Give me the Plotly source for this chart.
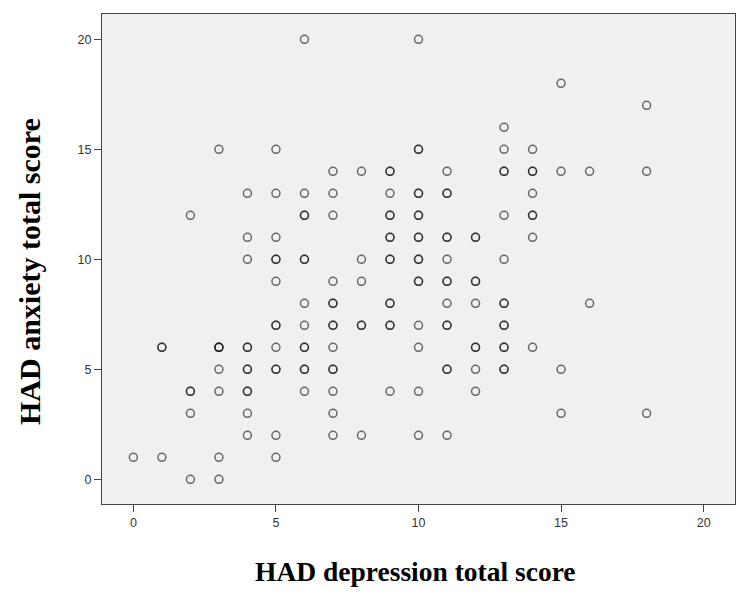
import plotly.graph_objects as go

# (depression, anxiety, count); darker circles = overlapping cases
dep_x = [0, 1, 1, 2, 2, 2, 2, 3, 3, 3, 3, 3, 3,
         4, 4, 4, 4, 4, 4, 4, 4,
         5, 5, 5, 5, 5, 5, 5, 5, 5, 5,
         6, 6, 6, 6, 6, 6, 6, 6, 6,
         7, 7, 7, 7, 7, 7, 7, 7, 7, 7, 7,
         8, 8, 8, 8, 8,
         9, 9, 9, 9, 9, 9, 9, 9,
         10, 10, 10, 10, 10, 10, 10, 10, 10, 10, 10,
         11, 11, 11, 11, 11, 11, 11, 11, 11,
         12, 12, 12, 12, 12, 12,
         13, 13, 13, 13, 13, 13, 13, 13, 13,
         14, 14, 14, 14, 14, 14,
         15, 15, 15, 15, 16, 16, 18, 18, 18]
anx_y = [1, 6, 1, 12, 4, 3, 0, 15, 6, 5, 4, 1, 0,
         13, 11, 10, 6, 5, 4, 3, 2,
         15, 13, 11, 10, 9, 7, 6, 5, 2, 1,
         20, 13, 12, 10, 8, 7, 6, 5, 4,
         14, 13, 12, 9, 8, 7, 6, 5, 4, 3, 2,
         14, 10, 9, 7, 2,
         14, 13, 12, 11, 10, 8, 7, 4,
         20, 15, 13, 12, 11, 10, 9, 7, 6, 4, 2,
         14, 13, 11, 10, 9, 8, 7, 5, 2,
         11, 9, 8, 6, 5, 4,
         16, 15, 14, 12, 10, 8, 7, 6, 5,
         15, 14, 13, 12, 11, 6,
         18, 14, 5, 3, 14, 8, 17, 14, 3]
counts = [1, 2, 1, 1, 2, 1, 1, 1, 3, 1, 1, 1, 1,
          1, 1, 1, 2, 2, 2, 1, 1,
          1, 1, 1, 2, 1, 2, 1, 2, 1, 1,
          1, 1, 2, 2, 1, 1, 2, 2, 1,
          1, 1, 1, 1, 2, 2, 1, 2, 1, 1, 1,
          1, 1, 1, 2, 1,
          2, 1, 2, 2, 2, 2, 2, 1,
          1, 2, 2, 2, 2, 2, 2, 1, 1, 1, 1,
          1, 2, 2, 1, 2, 1, 2, 2, 1,
          2, 2, 1, 2, 1, 1,
          1, 1, 2, 1, 1, 2, 2, 2, 2,
          1, 2, 1, 2, 1, 1,
          1, 1, 1, 1, 1, 1, 1, 1, 1]

xs, ys = [], []
for x, y, c in zip(dep_x, anx_y, counts):
    xs += [x] * c
    ys += [y] * c

x_ticks = [0, 5, 10, 15, 20]
y_ticks = [0, 5, 10, 15, 20]

fig = go.Figure(go.Scatter(
    x=xs, y=ys, mode="markers",
    marker=dict(symbol="circle-open", size=8, color="rgba(20,20,20,0.62)",
                line=dict(width=1.5, color="rgba(20,20,20,0.62)")),
    hoverinfo="x+y", showlegend=False))

tick_font = dict(family="Liberation Sans, Arial, sans-serif", size=12.5, color="#333")
axis_common = dict(showgrid=False, zeroline=False, showline=True, linecolor="#444",
                   linewidth=1.3, mirror=True, ticks="outside", ticklen=7,
                   tickwidth=1.3, tickcolor="#444", tickfont=tick_font)
fig.update_xaxes(range=[-1.1, 21.1], tickvals=x_ticks, **axis_common)
fig.update_yaxes(range=[-1.12, 21.15], tickvals=y_ticks, **axis_common)

serif = "Liberation Serif, Times New Roman, serif"
fig.update_layout(
    width=750, height=605,
    margin=dict(l=94, r=23, t=6, b=109),
    paper_bgcolor="white", plot_bgcolor="#f0f0f0",
    annotations=[
        dict(text="<b>HAD depression total score</b>", xref="paper", yref="paper",
             x=0.495, y=-0.137, xanchor="center", yanchor="middle", showarrow=False,
             font=dict(family=serif, size=27.5, color="black")),
        dict(text="<b>HAD anxiety total score</b>", xref="paper", yref="paper",
             x=-0.1137, y=0.4735, xanchor="center", yanchor="middle", textangle=-90,
             showarrow=False, font=dict(family=serif, size=30, color="black")),
    ])

fig.write_html("out.html")
